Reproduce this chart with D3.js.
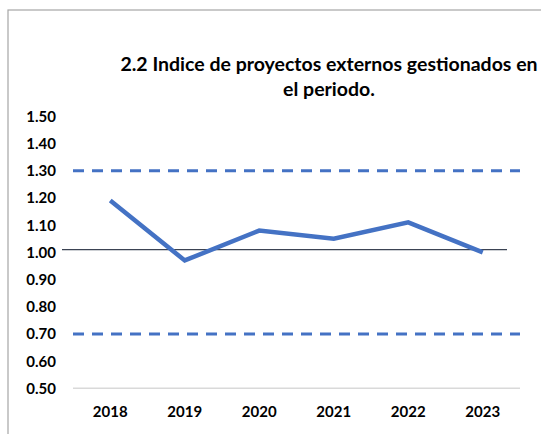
<!DOCTYPE html>
<html>
<head>
<meta charset="utf-8">
<script src="https://cdn.jsdelivr.net/npm/d3@7"></script>
<style>
  body { margin: 0; background: #fff; }
  text { font-family: Lato, "Open Sans", sans-serif; font-weight: bold; fill: #000; }
</style>
</head>
<body>
<div id="chart"></div>
<script>
// chart data
const years = ["2018", "2019", "2020", "2021", "2022", "2023"];
const indice = [1.19, 0.97, 1.08, 1.05, 1.11, 1.00];
const limiteSuperior = 1.30;
const limiteInferior = 0.70;
const referencia = 1.01;
const yTicks = [0.5, 0.6, 0.7, 0.8, 0.9, 1.0, 1.1, 1.2, 1.3, 1.4, 1.5];
const titleLines = ["2.2 Indice de proyectos externos gestionados en", "el periodo."];

const W = 541, H = 434;
const margin = {top: 116.3, right: 21, bottom: 45.7, left: 73};

const svg = d3.select("#chart")
  .append("svg")
  .attr("width", W)
  .attr("height", H);

// outer frame (clipped on right and bottom)
svg.append("rect")
  .attr("x", 8).attr("y", 10)
  .attr("width", W).attr("height", H)
  .attr("fill", "none")
  .attr("stroke", "#a6a6a6")
  .attr("stroke-width", 1.2);

const x = d3.scaleBand()
  .domain(years)
  .range([margin.left, W - margin.right]);

const y = d3.scaleLinear()
  .domain([0.5, 1.5])
  .range([H - margin.bottom, margin.top]);

// title, two centred lines
svg.append("g")
  .selectAll("text")
  .data(titleLines)
  .join("text")
  .attr("x", 329)
  .attr("y", (d, i) => 71 + i * 25)
  .attr("text-anchor", "middle")
  .style("font-size", "19.5px")
  .text(d => d);

// x axis line (0.50 gridline)
svg.append("line")
  .attr("x1", x.range()[0]).attr("x2", x.range()[1])
  .attr("y1", y(0.5)).attr("y2", y(0.5))
  .attr("stroke", "#d9d9d9")
  .attr("stroke-width", 1.5);

// y tick labels
svg.append("g")
  .selectAll("text")
  .data(yTicks)
  .join("text")
  .attr("x", 56)
  .attr("y", d => y(d) + 5.4)
  .attr("text-anchor", "end")
  .style("font-size", "15px")
  .text(d => d.toFixed(2));

// x tick labels
svg.append("g")
  .selectAll("text")
  .data(years)
  .join("text")
  .attr("x", d => x(d) + x.bandwidth() / 2)
  .attr("y", 416.5)
  .attr("text-anchor", "middle")
  .style("font-size", "15px")
  .text(d => d);

// limit lines (dashed)
[limiteSuperior, limiteInferior].forEach(v => {
  svg.append("line")
    .attr("x1", x.range()[0]).attr("x2", x.range()[1])
    .attr("y1", y(v)).attr("y2", y(v))
    .attr("stroke", "#4472c4")
    .attr("stroke-width", 3)
    .attr("stroke-dasharray", "11,8");
});

// reference line
svg.append("line")
  .attr("x1", x.range()[0] - 11).attr("x2", x.range()[1] - 13)
  .attr("y1", y(referencia)).attr("y2", y(referencia))
  .attr("stroke", "#3b4353")
  .attr("stroke-width", 1.2);

// main series
const line = d3.line()
  .x((d, i) => x(years[i]) + x.bandwidth() / 2)
  .y(d => y(d));

svg.append("path")
  .datum(indice)
  .attr("fill", "none")
  .attr("stroke", "#4472c4")
  .attr("stroke-width", 4.5)
  .attr("stroke-linejoin", "miter")
  .attr("d", line);
</script>
</body>
</html>
